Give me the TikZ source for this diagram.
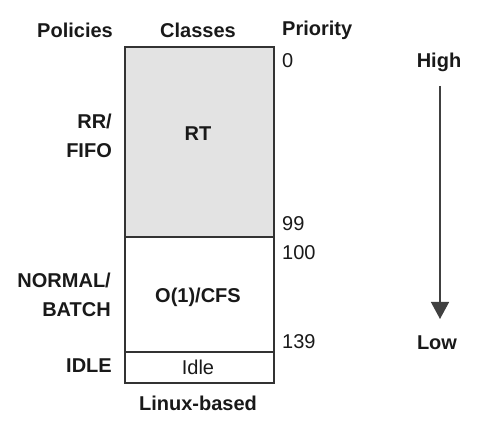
\documentclass[tikz,border=0pt]{standalone}
\usepackage{fontspec}
\setmainfont{Liberation Sans}
\usetikzlibrary{arrows.meta}
\begin{document}
\begin{tikzpicture}[x=1pt,y=-1pt,
  lbl/.style={font=\fontsize{20}{22}\selectfont\bfseries, inner sep=0pt, text=black!90},
  two/.style={lbl, font=\fontsize{20}{28.5}\selectfont\bfseries, anchor=east, align=right},
  num/.style={font=\fontsize{20}{22}\selectfont, inner sep=0pt, anchor=west, text=black!90},
  boxline/.style={draw=black!80, line width=1.3pt}]
\useasboundingbox (0,0) rectangle (479,427);
% boxes
\path[boxline, fill=black!11] (125,47) rectangle (274,237);
\path[boxline] (125,237) rectangle (274,352);
\path[boxline] (125,352) rectangle (274,383);
% headers
\node[lbl] (pol) at (75,30) {Policies};
\node[lbl] (cls) at (198,30) {Classes};
\node[lbl, anchor=west] (pri) at (282,30) {Priority};
% class labels
\node[lbl] (rt) at (198,134) {RT};
\node[lbl] (cfs) at (198,297) {O(1)/CFS};
\node[num, anchor=center] (idle) at (198,367) {Idle};
\node[lbl] (linux) at (198,403) {Linux-based};
% policies
\node[two] (rr) at (112,136) {RR/\\FIFO};
\node[two] (nb) at (111,295) {NORMAL/\\BATCH};
\node[lbl, anchor=east] (idl) at (112,366) {IDLE};
% numbers
\node[num] (n0) at (282,61) {0};
\node[num] (n99) at (282,224) {99};
\node[num] (n100) at (282,253) {100};
\node[num] (n139) at (282,342) {139};
% high/low
\node[lbl] (high) at (439,62) {High};
\node[lbl] (low) at (437,343) {Low};
\coordinate (as) at (440,86);
\coordinate (ae) at (440,319);
\draw[draw=black!75, line width=1.4pt, -{Triangle[length=17pt,width=18pt]}] (as) -- (ae);
\end{tikzpicture}
\end{document}
